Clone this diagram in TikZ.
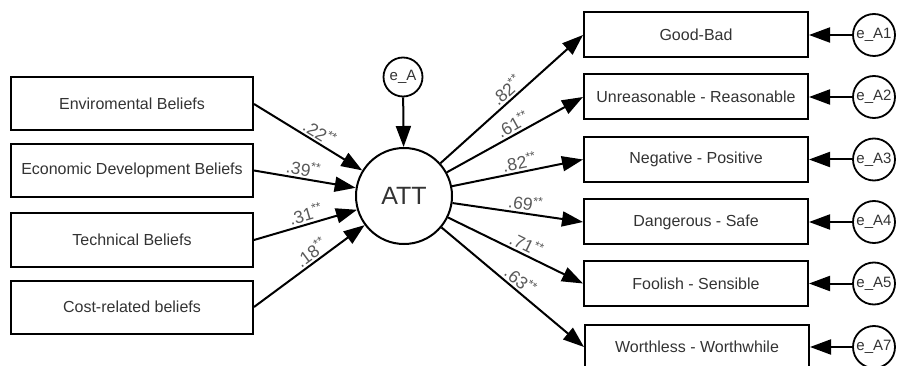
\documentclass[tikz,border=0pt]{standalone}
\usepackage{fontspec}
\setmainfont{Liberation Sans}
\usetikzlibrary{arrows.meta}
\begin{document}
\begin{tikzpicture}[x=1pt, y=-1pt,
  belief/.style={draw, line width=2pt, minimum width=242pt, minimum height=53pt, font=\fontsize{16}{19}\selectfont, text=black!80},
  item/.style={draw, line width=2pt, minimum width=224pt, minimum height=45pt, font=\fontsize{16}{19}\selectfont, text=black!80},
  err/.style={circle, draw, line width=1.8pt, minimum size=42pt, inner sep=0pt, font=\fontsize{15}{18}\selectfont, text=black!80},
  arr/.style={line width=2pt, -{Triangle[length=21pt,width=15pt]}},
  coef/.style={sloped, above, font=\fontsize{17.5}{20}\selectfont, text=black!65, inner sep=2pt}]
\useasboundingbox (0,0) rectangle (897,366);
% latent variable and its error
\node[circle, draw, line width=2pt, minimum size=96pt, inner sep=0pt, font=\fontsize{25}{30}\selectfont, text=black!80] (att) at (404,196) {ATT};
\node[err, minimum size=39pt] (ea) at (403,77) {e\_A};
\draw[arr] (ea) -- (att);
% beliefs
\node[belief] (b1) at (132,104) {Enviromental Beliefs};
\node[belief] (b2) at (132,170.5) {Economic Development Beliefs};
\node[belief] (b3) at (132,240) {Technical Beliefs};
\node[belief] (b4) at (132,307) {Cost-related beliefs};
\draw[arr] (b1.east) -- (att) node[coef, pos=0.56] {.22\textsuperscript{**}};
\draw[arr] (b2.east) -- (att) node[coef, pos=0.47] {.39\textsuperscript{**}};
\draw[arr] (b3.east) -- (att) node[coef, pos=0.53] {.31\textsuperscript{**}};
\draw[arr] (b4.east) -- (att) node[coef, pos=0.57] {.18\textsuperscript{**}};
% items
\node[item] (g1) at (696,35) {Good-Bad};
\node[item] (g2) at (696,97) {Unreasonable - Reasonable};
\node[item] (g3) at (696,159.5) {Negative - Positive};
\node[item] (g4) at (696,222) {Dangerous - Safe};
\node[item] (g5) at (696,283.5) {Foolish - Sensible};
\node[item] (g7) at (697,347) {Worthless - Worthwhile};
\draw[arr] (att) -- (g1.west) node[coef, pos=0.51] {.82\textsuperscript{**}};
\draw[arr] (att) -- (g2.west) node[coef, pos=0.52] {.61\textsuperscript{**}};
\draw[arr] (att) -- (g3.west) node[coef, pos=0.53] {.82\textsuperscript{**}};
\draw[arr] (att) -- (g4.west) node[coef, pos=0.55] {.69\textsuperscript{**}};
\draw[arr] (att) -- (g5.west) node[coef, pos=0.55] {.71\textsuperscript{**}};
\draw[arr] (att) -- (g7.west) node[coef, pos=0.51] {.63\textsuperscript{**}};
% item errors
\node[err] (e1) at (874,35) {e\_A1};
\node[err] (e2) at (874,97) {e\_A2};
\node[err] (e3) at (874,159.5) {e\_A3};
\node[err] (e4) at (874,222) {e\_A4};
\node[err] (e5) at (874,283.5) {e\_A5};
\node[err] (e7) at (874,347) {e\_A7};
\draw[arr] (e1) -- (g1);
\draw[arr] (e2) -- (g2);
\draw[arr] (e3) -- (g3);
\draw[arr] (e4) -- (g4);
\draw[arr] (e5) -- (g5);
\draw[arr] (e7) -- (g7);
\end{tikzpicture}
\end{document}
